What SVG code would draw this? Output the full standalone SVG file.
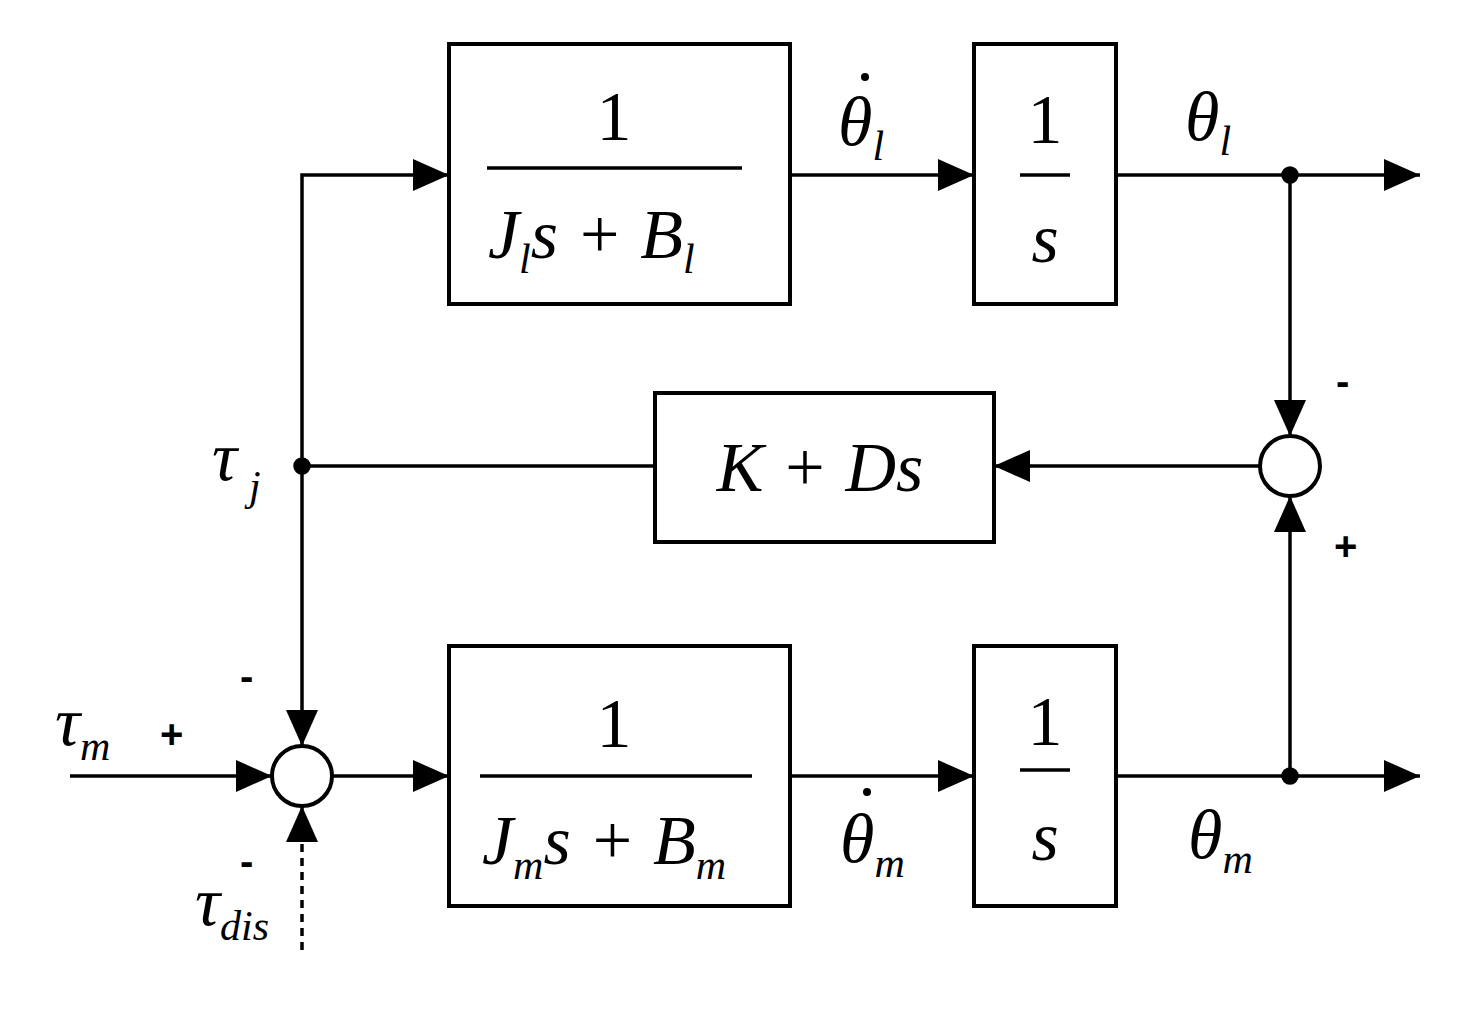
<svg xmlns="http://www.w3.org/2000/svg" width="1474" height="1016" viewBox="0 0 1474 1016">
<style>
.b{fill:#fff;stroke:#000;stroke-width:4}
.l{fill:none;stroke:#000;stroke-width:3.5}
.t{font-family:"Liberation Serif",serif;font-size:70px;fill:#000}
.i{font-style:italic}
.s{font-size:42px;font-style:italic}
.p{font-family:"Liberation Sans",sans-serif;font-size:40px;font-weight:bold}
</style>
<defs><marker id="a" markerWidth="36" markerHeight="32" refX="36" refY="16" orient="auto" markerUnits="userSpaceOnUse"><path d="M0,0L36,16L0,32z"/></marker></defs>
<rect width="1474" height="1016" fill="#fff"/>
<g id="connectors" class="l">
<path d="M302,466V175H449" marker-end="url(#a)"/>
<path d="M790,175H974" marker-end="url(#a)"/>
<path d="M1116,175H1420" marker-end="url(#a)"/>
<path d="M1290,175V436" marker-end="url(#a)"/>
<path d="M1260,466H994" marker-end="url(#a)"/>
<path d="M655,466H302V746" marker-end="url(#a)"/>
<path d="M70,776H272" marker-end="url(#a)"/>
<path d="M332,776H449" marker-end="url(#a)"/>
<path d="M790,776H974" marker-end="url(#a)"/>
<path d="M1116,776H1420" marker-end="url(#a)"/>
<path d="M1290,776V496" marker-end="url(#a)"/>
<path d="M302,950V806" stroke-dasharray="8,6" marker-end="url(#a)"/>
<circle cx="302" cy="466" r="7" fill="#000"/>
<circle cx="1290" cy="175" r="7" fill="#000"/>
<circle cx="1290" cy="776" r="7" fill="#000"/>
</g>
<g id="box1"><rect class="b" x="449" y="44" width="341" height="260"/><text class="t" x="614" y="140" text-anchor="middle">1</text><path class="l" d="M487,168H742"/><text class="t i" x="488" y="258">J<tspan class="s" dy="15">l</tspan><tspan dy="-15">s + B</tspan><tspan class="s" dy="15">l</tspan></text></g>
<g id="int1"><rect class="b" x="974" y="44" width="142" height="260"/><text class="t" x="1045" y="143" text-anchor="middle">1</text><path class="l" d="M1020,175H1070"/><text class="t i" x="1045" y="262" text-anchor="middle">s</text></g>
<g id="kd"><rect class="b" x="655" y="393" width="339" height="149"/><text class="t i" x="820" y="491" text-anchor="middle">K + Ds</text></g>
<g id="sumR"><circle class="b" cx="1290" cy="466" r="30" stroke-width="3.5"/></g>
<g id="sumL"><circle class="b" cx="302" cy="776" r="30" stroke-width="3.5"/></g>
<g id="box2"><rect class="b" x="449" y="646" width="341" height="260"/><text class="t" x="614" y="747" text-anchor="middle">1</text><path class="l" d="M480,776H752"/><text class="t i" x="482" y="864">J<tspan class="s" dy="15">m</tspan><tspan dy="-15">s + B</tspan><tspan class="s" dy="15">m</tspan></text></g>
<g id="int2"><rect class="b" x="974" y="646" width="142" height="260"/><text class="t" x="1045" y="745" text-anchor="middle">1</text><path class="l" d="M1020,770H1070"/><text class="t i" x="1045" y="860" text-anchor="middle">s</text></g>
<g id="labels">
<text class="t i" x="838" y="145">θ<tspan class="s" dy="15">l</tspan></text><circle cx="865" cy="77" r="4"/>
<text class="t i" x="1185" y="140">θ<tspan class="s" dy="15">l</tspan></text>
<text class="t i" x="840" y="862">θ<tspan class="s" dy="15">m</tspan></text><circle cx="867" cy="792" r="4"/>
<text class="t i" x="1188" y="858">θ<tspan class="s" dy="15">m</tspan></text>
<text class="t i" x="212" y="480">τ<tspan class="s" dx="12" dy="20">j</tspan></text>
<text class="t i" x="55" y="745">τ<tspan class="s" dy="15">m</tspan></text>
<text class="p" x="160" y="748">+</text>
<text class="p" x="240" y="690">-</text>
<text class="t i" x="195" y="925">τ<tspan class="s" dy="15">dis</tspan></text>
<text class="p" x="240" y="875">-</text>
<text class="p" x="1336" y="395">-</text>
<text class="p" x="1334" y="560">+</text>
</g>
</svg>
